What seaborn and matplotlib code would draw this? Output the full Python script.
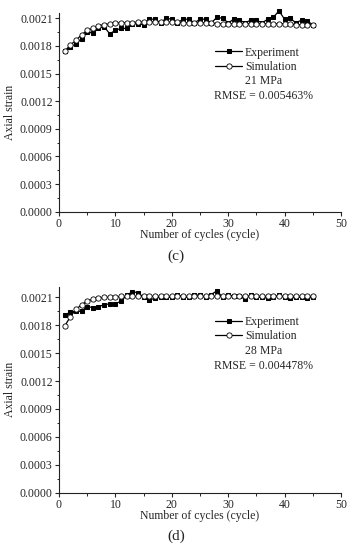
import numpy as np
import pandas as pd
import matplotlib
matplotlib.use("Agg")
import matplotlib.pyplot as plt
import seaborn as sns
from matplotlib.ticker import MultipleLocator

cycles = list(range(1, 46))

exp_c = [0.00174, 0.00179, 0.00182, 0.00188, 0.00195, 0.00194, 0.00199, 0.00201, 0.00193, 0.00197,
         0.00199, 0.00199, 0.00204, 0.00204, 0.00203, 0.00209, 0.00209, 0.00205, 0.00210, 0.00209,
         0.00205, 0.00209, 0.00209, 0.00205, 0.00209, 0.00209, 0.00205, 0.00211, 0.00210, 0.00205,
         0.00209, 0.00208, 0.00205, 0.00208, 0.00208, 0.00205, 0.00209, 0.00211, 0.00218, 0.00209,
         0.00210, 0.00205, 0.00208, 0.00207, 0.00203]
sim_c = [0.00174, 0.00181, 0.00186, 0.00192, 0.00197, 0.00199, 0.00202, 0.00203, 0.00204, 0.00205,
         0.00205, 0.00205, 0.00205, 0.00206, 0.00206, 0.00206, 0.00206, 0.00206, 0.00206, 0.00206,
         0.00206, 0.00205, 0.00205, 0.00205, 0.00205, 0.00205, 0.00205, 0.00204, 0.00204, 0.00204,
         0.00204, 0.00204, 0.00204, 0.00204, 0.00204, 0.00204, 0.00204, 0.00204, 0.00204, 0.00204,
         0.00204, 0.00203, 0.00203, 0.00203, 0.00203]

exp_d = [0.00191, 0.00194, 0.00195, 0.00195, 0.00200, 0.00199, 0.00200, 0.00202, 0.00203, 0.00203,
         0.00206, 0.00212, 0.00216, 0.00215, 0.00210, 0.00207, 0.00209, 0.00210, 0.00210, 0.00210,
         0.00213, 0.00210, 0.00210, 0.00213, 0.00212, 0.00210, 0.00213, 0.00217, 0.00210, 0.00213,
         0.00211, 0.00211, 0.00208, 0.00213, 0.00210, 0.00210, 0.00209, 0.00210, 0.00212, 0.00210,
         0.00209, 0.00210, 0.00210, 0.00209, 0.00210]
sim_d = [0.00179, 0.00189, 0.00197, 0.00202, 0.00206, 0.00208, 0.00209, 0.00210, 0.00210, 0.00210,
         0.00211, 0.00211, 0.00211, 0.00211, 0.00211, 0.00211, 0.00211, 0.00211, 0.00211, 0.00211,
         0.00211, 0.00211, 0.00211, 0.00211, 0.00211, 0.00211, 0.00211, 0.00211, 0.00211, 0.00211,
         0.00211, 0.00211, 0.00211, 0.00211, 0.00211, 0.00211, 0.00211, 0.00211, 0.00211, 0.00211,
         0.00211, 0.00211, 0.00211, 0.00211, 0.00211]

pressures = ["21 MPa", "28 MPa"]
rmse = ["RMSE = 0.005463%", "RMSE = 0.004478%"]
panel_labels = ["(c)", "(d)"]
yticks = [0.0000, 0.0003, 0.0006, 0.0009, 0.0012, 0.0015, 0.0018, 0.0021]
xticks = [0, 10, 20, 30, 40, 50]

sns.set_style("ticks")
plt.rcParams['font.family'] = ['Liberation Serif', 'DejaVu Serif']

fig = plt.figure(figsize=(3.51, 5.5), dpi=100)
W, H = 351, 550
axes = [
    fig.add_axes([59 / W, 1 - 211.7 / H, 282 / W, (211.7 - 13.3) / H]),
    fig.add_axes([59 / W, 1 - 492.7 / H, 282 / W, (492.7 - 286.7) / H]),
]
ytops = [0.002154, 0.002214]
datasets = [(exp_c, sim_c), (exp_d, sim_d)]
leg_y = [0.832, 0.858]
txt_y = [(0.659, 0.585), (0.688, 0.614)]

for i, ax in enumerate(axes):
    e, s = datasets[i]
    df = pd.DataFrame({"cycle": cycles, "exp": e, "sim": s})
    sns.lineplot(data=df, x="cycle", y="exp", ax=ax, color="black", lw=0.9,
                 marker="s", markersize=3.2, markerfacecolor="black", markeredgecolor="black",
                 label="Experiment", clip_on=False, zorder=3)
    sns.lineplot(data=df, x="cycle", y="sim", ax=ax, color="black", lw=0.9,
                 marker="o", markersize=3.8, markerfacecolor="white", markeredgecolor="black",
                 markeredgewidth=0.6, label="Simulation", clip_on=False, zorder=4)
    ax.set_xlim(0, 50)
    ax.set_ylim(0, ytops[i])
    ax.set_xticks(xticks)
    ax.set_yticks(yticks)
    ax.set_yticklabels([f"{v:.4f}" for v in yticks])
    ax.xaxis.set_minor_locator(MultipleLocator(5))
    ax.yaxis.set_minor_locator(MultipleLocator(0.00015))
    ax.tick_params(axis="both", which="major", direction="out", length=3, width=0.8,
                   labelsize=8.5, pad=1.5)
    ax.tick_params(axis="both", which="minor", direction="out", length=1.8, width=0.7)
    for sp in ["top", "right"]:
        ax.spines[sp].set_visible(False)
    for sp in ["left", "bottom"]:
        ax.spines[sp].set_linewidth(0.8)
        ax.spines[sp].set_color("#222222")
    ax.set_xlabel("Number of cycles (cycle)", fontsize=8.5, labelpad=-1)
    ax.set_ylabel("Axial strain", fontsize=8.5, labelpad=3)
    ax.set_facecolor("white")
    ax.legend(loc="upper left", bbox_to_anchor=(0.553, leg_y[i]), frameon=False,
              fontsize=8.5, handlelength=2.3, handletextpad=0.25,
              borderaxespad=0, borderpad=0, labelspacing=0.2)
    ax.text(0.725, txt_y[i][0], pressures[i], transform=ax.transAxes,
            ha="center", va="center", fontsize=8.5)
    ax.text(0.725, txt_y[i][1], rmse[i], transform=ax.transAxes,
            ha="center", va="center", fontsize=8.5)

fig.text(176 / W, 1 - 256.7 / H, panel_labels[0], ha="center", va="center", fontsize=11)
fig.text(176 / W, 1 - 536 / H, panel_labels[1], ha="center", va="center", fontsize=11)

fig.savefig("out.png", dpi=100, facecolor="white")
